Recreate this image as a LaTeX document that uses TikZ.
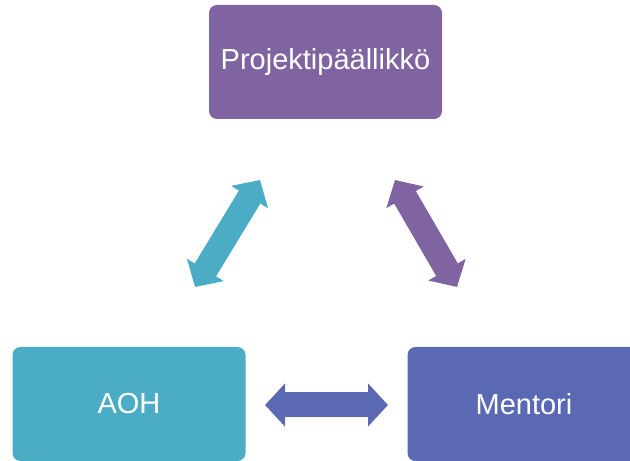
\documentclass[tikz,border=0pt]{standalone}
\usepackage{fontspec}
\setmainfont{Liberation Sans}
\usetikzlibrary{arrows.meta}

\definecolor{pmpurple}{HTML}{8064A2}
\definecolor{aohteal}{HTML}{4BACC6}
\definecolor{mentblue}{HTML}{5B69B4}

\tikzset{
  rolebox/.style={fill=#1, rounded corners=8pt, minimum width=233pt, minimum height=114pt,
    text=white, font=\fontsize{29}{34}\selectfont},
  twoway/.style={draw=#1, line width=25pt,
    {Triangle[length=20pt,width=42pt]}-{Triangle[length=20pt,width=42pt]}}
}

\begin{document}
\begin{tikzpicture}[x=1pt,y=1pt]
  \useasboundingbox (0,0) rectangle (630,461);

  % roles
  \node[rolebox=pmpurple] (pm) at (325.5,399) {Projektipäällikkö};
  \node[rolebox=aohteal] (aoh) at (129,57) {AOH};
  \node[rolebox=mentblue] (mentori) at (524,57) {Mentori};

  % arrow ends
  \coordinate (aohup) at (195,174);
  \coordinate (pmleft) at (260,281);
  \coordinate (pmright) at (395,281);
  \coordinate (mentup) at (457,174);
  \coordinate (aohright) at (265,56);
  \coordinate (mentleft) at (388,56);

  \draw[twoway=aohteal] (aohup) -- (pmleft);
  \draw[twoway=pmpurple] (pmright) -- (mentup);
  \draw[twoway=mentblue] (aohright) -- (mentleft);
\end{tikzpicture}
\end{document}
